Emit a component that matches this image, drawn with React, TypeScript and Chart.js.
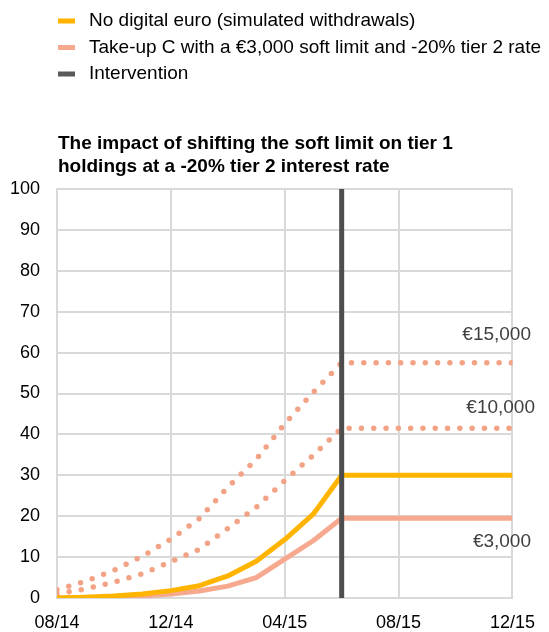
import React, { useEffect, useRef } from "react";
import { Chart, registerables } from "chart.js";

Chart.register(...registerables);

// ---- data ----
const months = [
  "08/14", "09/14", "10/14", "11/14", "12/14", "01/15", "02/15", "03/15", "04/15",
  "05/15", "06/15", "07/15", "08/15", "09/15", "10/15", "11/15", "12/15",
];
const noDigitalEuro = [0, 0.2, 0.5, 1.0, 1.8, 3.0, 5.4, 9.0, 14.3, 20.5, 30, 30, 30, 30, 30, 30, 30];
const takeUp3000 = [0, 0.05, 0.2, 0.5, 1.0, 1.7, 2.9, 5.0, 9.5, 14.0, 19.5, 19.5, 19.5, 19.5, 19.5, 19.5, 19.5];
const takeUp10000 = [1.0, 2.2, 3.9, 5.9, 8.9, 11.9, 17.0, 22.2, 28.7, 34.9, 41.5, 41.5, 41.5, 41.5, 41.5, 41.5, 41.5];
const takeUp15000 = [2.0, 4.1, 6.8, 10.2, 14.4, 19.4, 27.1, 33.9, 42.6, 50.3, 57.5, 57.5, 57.5, 57.5, 57.5, 57.5, 57.5];
const interventionMonth = "06/15";
const interventionRange = [0, 100];

const legendLabels = [
  "No digital euro (simulated withdrawals)",
  "Take-up C with a €3,000 soft limit and -20% tier 2 rate",
  "Intervention",
];
const titleLines = [
  "The impact of shifting the soft limit on tier 1",
  "holdings at a -20% tier 2 interest rate",
];
const seriesEndLabels = ["€15,000", "€10,000", "€3,000"];

const FONT = "'Liberation Sans', Arial, sans-serif";
const ORANGE = "#FFB400";
const PINK = "#F6A98E";
const DOTS = "#F3A385";
const GREY = "#4D4D4D";
const GRID = "#D9D9D9";

const toXY = (arr: number[]) => arr.map((v, i) => ({ x: i, y: v }));

const decorPlugin = {
  id: "decor",
  afterDraw(chart: any) {
    const ctx = chart.ctx;
    const yScale = chart.scales.y;
    ctx.save();
    // legend
    const legendColors = [ORANGE, PINK, "#595959"];
    const rowsY = [21, 47.5, 74];
    ctx.font = `19px ${FONT}`;
    ctx.textBaseline = "middle";
    ctx.textAlign = "left";
    legendLabels.forEach((lab, i) => {
      ctx.fillStyle = legendColors[i];
      ctx.fillRect(58, rowsY[i] - 2.5, 17, 5);
      ctx.fillStyle = "#000";
      ctx.fillText(lab, 89, rowsY[i]);
    });
    // title
    ctx.font = `bold 19px ${FONT}`;
    ctx.fillStyle = "#000";
    titleLines.forEach((t, i) => ctx.fillText(t, 58, 144 + i * 23));
    // end labels
    ctx.font = `19px ${FONT}`;
    ctx.fillStyle = "#404040";
    ctx.textAlign = "right";
    const ends = [
      takeUp15000[takeUp15000.length - 1],
      takeUp10000[takeUp10000.length - 1],
      takeUp3000[takeUp3000.length - 1],
    ];
    const offs = [-28, -20, 24];
    const rights = [531, 535, 531];
    seriesEndLabels.forEach((lab, i) => {
      ctx.fillText(lab, rights[i], yScale.getPixelForValue(ends[i]) + offs[i]);
    });
    ctx.restore();
  },
};

export default function App() {
  const ref = useRef<HTMLCanvasElement>(null);
  useEffect(() => {
    if (!ref.current) return;
    const ix = months.indexOf(interventionMonth);
    const chart = new Chart(ref.current, {
      type: "line",
      data: {
        datasets: [
          {
            label: legendLabels[2],
            data: interventionRange.map((v) => ({ x: ix, y: v })),
            borderColor: GREY,
            borderWidth: 5,
            pointRadius: 0,
          },
          {
            label: legendLabels[0],
            data: toXY(noDigitalEuro),
            borderColor: ORANGE,
            borderWidth: 5,
            pointRadius: 0,
            borderJoinStyle: "round",
          },
          {
            label: legendLabels[1],
            data: toXY(takeUp3000),
            borderColor: PINK,
            borderWidth: 5,
            pointRadius: 0,
            borderJoinStyle: "round",
          },
          {
            label: seriesEndLabels[1],
            data: toXY(takeUp10000),
            borderColor: DOTS,
            borderWidth: 5.5,
            borderDash: [0, 12.3],
            borderCapStyle: "round",
            pointRadius: 0,
          },
          {
            label: seriesEndLabels[0],
            data: toXY(takeUp15000),
            borderColor: DOTS,
            borderWidth: 5.5,
            borderDash: [0, 12.3],
            borderCapStyle: "round",
            pointRadius: 0,
          },
        ],
      } as any,
      options: {
        responsive: false,
        animation: false,
        layout: { padding: { top: 189, right: 36, left: 0, bottom: 0 } },
        plugins: {
          legend: { display: false },
          title: { display: false },
          tooltip: { enabled: false },
        },
        scales: {
          x: {
            type: "linear",
            min: 0,
            max: months.length - 1,
            ticks: {
              stepSize: 4,
              autoSkip: false,
              maxRotation: 0,
              padding: 14,
              color: "#000",
              font: { family: FONT, size: 18 },
              callback: (v: any) => months[Number(v)] ?? "",
            },
            grid: { color: GRID, lineWidth: 2, drawTicks: false },
            border: { color: GRID, width: 2 },
            afterFit: (s: any) => {
              s.height = 34;
            },
          },
          y: {
            min: 0,
            max: 100,
            ticks: {
              stepSize: 10,
              padding: 17,
              color: "#000",
              font: { family: FONT, size: 18 },
            },
            grid: { color: GRID, lineWidth: 2, drawTicks: false },
            border: { color: GRID, width: 2 },
            afterFit: (s: any) => {
              s.width = 57;
            },
          },
        },
      } as any,
      plugins: [decorPlugin],
    });
    return () => chart.destroy();
  }, []);
  return (
    <div style={{ position: "absolute", left: 0, top: 0, width: 549, height: 632 }}>
      <canvas ref={ref} width={549} height={632} style={{ display: "block" }} />
    </div>
  );
}
